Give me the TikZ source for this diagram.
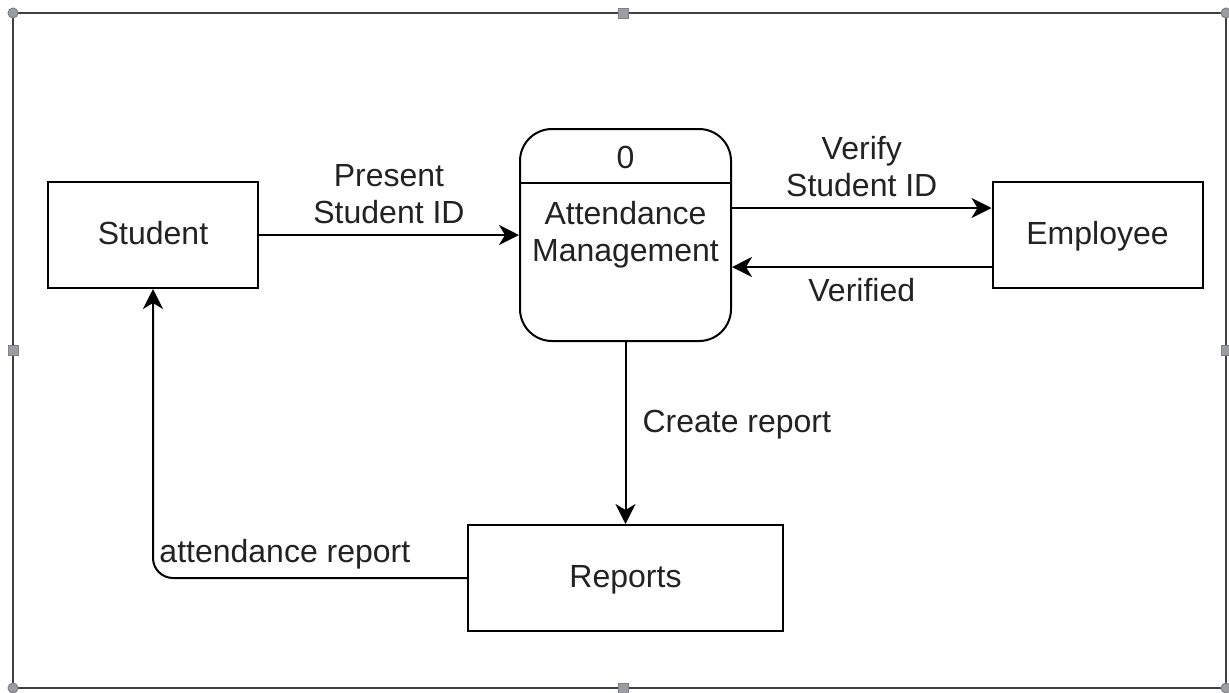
\documentclass[tikz,border=0pt]{standalone}
\usepackage{fontspec}
\setmainfont{Liberation Sans}
\usetikzlibrary{arrows.meta}
\definecolor{txtgray}{HTML}{222222}
\definecolor{handlegray}{HTML}{9A9DA3}
\tikzstyle{entity} = [rectangle, draw=black, line width=1pt, minimum width=105pt, minimum height=53pt, text height=11.5pt, text depth=2pt, text=txtgray]
\tikzstyle{procbox} = [rectangle, rounded corners=16pt, draw=black, line width=1pt, minimum width=105.5pt, minimum height=106pt, align=center, text=txtgray]
\tikzstyle{flow} = [draw=black, line width=1pt, -{Stealth[length=10pt, width=10pt, inset=3pt]}]
\tikzstyle{flowlabel} = [align=center, text=txtgray, inner sep=2pt]
\tikzstyle{handle} = [draw=gray, fill=handlegray, line width=0.5pt]

\begin{document}
\begin{tikzpicture}[x=0.5pt, y=-0.5pt, font=\fontsize{16}{18.5}\selectfont]%
				\useasboundingbox (0,0) rectangle (1229,692);%
				% selection frame
				\draw[black!75, line width=1pt] (13,13) rectangle (1226,688);%
				\filldraw[handle] (13,13) circle (5);%
				\filldraw[handle] (1226,13) circle (5);%
				\filldraw[handle] (13,688) circle (5);%
				\filldraw[handle] (1226,688) circle (5);%
				\filldraw[handle] (618,8) rectangle (628,18);%
				\filldraw[handle] (618,683) rectangle (628,693);%
				\filldraw[handle] (8,345) rectangle (18,355);%
				\filldraw[handle] (1221,345) rectangle (1231,355);%
				% entities and process
				\node [entity] (student) at (153,235) {Student};%
				\node [entity] (employee) at (1097.5,235) {Employee};%
				\node [entity, minimum width=157.5pt] (reports) at (625.5,578) {Reports};%
				\node [procbox] (proc) at (625.5,235) {Attendance\\Management};%
				\draw [line width=1pt] (proc.west |- 0,183) -- (proc.east |- 0,183);%
				\node [text=txtgray] (procid) at (625.5,157) {0};%
				% data flows
				\draw [flow] (student.east) -- node [flowlabel, above, yshift=3pt] {Present\\Student ID} (proc.west);%
				\draw [flow] ([yshift=13.5pt]proc.east) -- node [flowlabel, above, yshift=3pt] {Verify\\Student ID} ([yshift=13.5pt]employee.west);%
				\draw [flow] ([yshift=-16pt]employee.west) -- node [flowlabel, below, yshift=-3pt] {Verified} ([yshift=-16pt]proc.east);%
				\draw [flow] (proc.south) -- node [flowlabel, right, xshift=6pt, yshift=4pt] {Create report} (reports.north);%
				\draw [flow, rounded corners=10pt] (reports.west) -| node [flowlabel, pos=0.29, above, yshift=2pt] {attendance report} (student.south);%
	\end{tikzpicture}
\end{document}
